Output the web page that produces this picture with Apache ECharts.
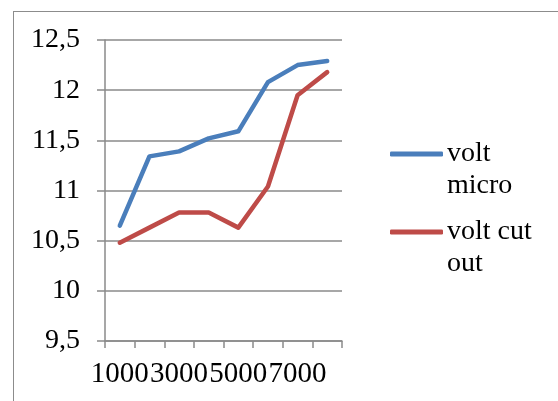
<!DOCTYPE html>
<html>
<head>
<meta charset="utf-8">
<script src="https://cdn.jsdelivr.net/npm/echarts@6/dist/echarts.min.js"></script>
<style>
  html, body { margin: 0; padding: 0; background: #fff; }
  #frame { position: absolute; left: 13px; top: 11px; width: 600px; height: 500px; border: 1.5px solid #8c8c8c; box-sizing: border-box; }
  #chart { position: absolute; left: 0; top: 0; width: 558px; height: 401px; }
</style>
</head>
<body>
<div id="frame"></div>
<div id="chart"></div>
<script>
const categories = ['1000', '2000', '3000', '4000', '5000', '6000', '7000', '8000'];
const voltMicro = [10.65, 11.34, 11.39, 11.52, 11.59, 12.08, 12.25, 12.29];
const voltCutOut = [10.48, 10.63, 10.78, 10.78, 10.63, 11.04, 11.95, 12.18];
const seriesNames = ['volt micro', 'volt cut out'];
const legendLabels = [' \nvolt\nmicro', ' \nvolt cut\nout'];
const yTicks = { min: 9.5, max: 12.5, interval: 0.5 };

const FONT = 'Liberation Serif';
const GRAY = '#8a8a8a';
const colors = ['#4A7EBB', '#BE4B48'];

const chart = echarts.init(document.getElementById('chart'), null, { renderer: 'canvas' });

function makeLegend(i, top) {
  return {
    data: [seriesNames[i]],
    left: 390,
    top: top,
    orient: 'vertical',
    padding: 0,
    icon: 'roundRect',
    itemWidth: 53,
    itemHeight: 5,
    formatter: function () { return legendLabels[i]; },
    textStyle: {
      fontFamily: FONT,
      fontSize: 28,
      color: '#000',
      lineHeight: 32,
      padding: [0, 0, 0, -1]
    }
  };
}

chart.setOption({
  animation: false,
  backgroundColor: 'transparent',
  color: colors,
  grid: { left: 105, right: 216, top: 40, bottom: 60, containLabel: false },
  legend: [makeLegend(0, 106), makeLegend(1, 184)],
  xAxis: {
    type: 'category',
    data: categories,
    boundaryGap: true,
    axisLine: { show: true, lineStyle: { color: GRAY, width: 1.5 } },
    axisTick: { show: true, interval: 0, length: 7, lineStyle: { color: GRAY, width: 1.5 } },
    axisLabel: { interval: 1, margin: 19, fontFamily: FONT, fontSize: 29, color: '#000' },
    splitLine: { show: false }
  },
  yAxis: {
    type: 'value',
    min: yTicks.min,
    max: yTicks.max,
    interval: yTicks.interval,
    axisLine: { show: true, lineStyle: { color: GRAY, width: 1.5 } },
    axisTick: { show: true, length: 8, lineStyle: { color: GRAY, width: 1.5 } },
    axisLabel: {
      margin: 25,
      fontFamily: FONT,
      fontSize: 28,
      color: '#000',
      formatter: function (v) { return String(v).replace('.', ','); }
    },
    splitLine: { show: true, lineStyle: { color: GRAY, width: 1.5 } }
  },
  series: [
    {
      name: seriesNames[0], type: 'line', data: voltMicro, symbol: 'none',
      lineStyle: { width: 4.5, color: colors[0], cap: 'round', join: 'round' }
    },
    {
      name: seriesNames[1], type: 'line', data: voltCutOut, symbol: 'none',
      lineStyle: { width: 4.5, color: colors[1], cap: 'round', join: 'round' }
    }
  ]
});
</script>
</body>
</html>
